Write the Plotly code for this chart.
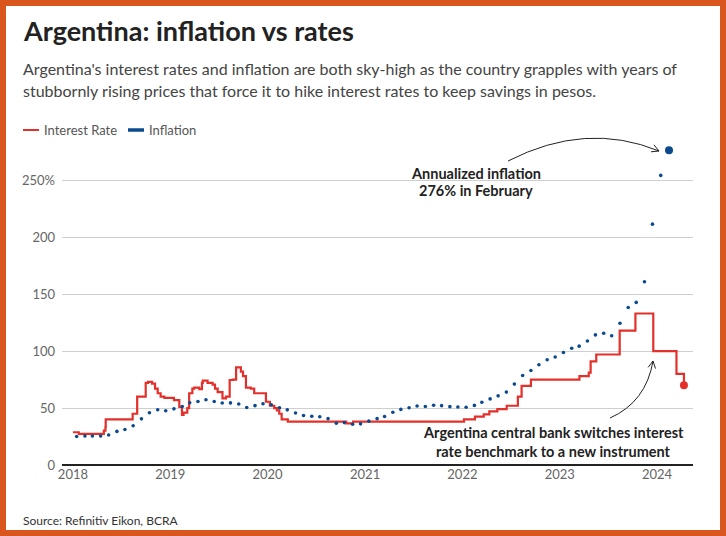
import numpy as np
import plotly.graph_objects as go

# Monthly annual inflation (%), Jan 2018 - Feb 2024
infl_months = [f"{y}-{m:02d}-15" for y in range(2018, 2025) for m in range(1, 13)][:74]
inflation = [
    25.0, 25.4, 25.4, 25.5, 26.3, 29.5, 31.2, 34.4, 40.5, 45.9, 48.5, 47.6,
    49.3, 51.3, 54.7, 55.8, 57.3, 55.8, 54.4, 54.5, 53.5, 50.5, 52.1, 53.8,
    52.9, 50.3, 48.4, 45.6, 43.4, 42.8, 42.4, 40.7, 36.6, 37.2, 35.8, 36.1,
    38.5, 40.7, 42.6, 46.3, 48.8, 50.2, 51.8, 51.4, 52.5, 52.1, 51.2, 50.9,
    50.7, 52.3, 55.1, 58.0, 60.7, 64.0, 71.0, 78.5, 83.0, 88.0, 92.4, 94.8,
    98.8, 102.5, 104.3, 108.8, 114.2, 115.6, 113.4, 124.4, 138.3, 142.7, 160.9, 211.4,
    254.2, 276.2,
]

# Policy interest rate (%), step changes
rate_dates = [
    "2018-01-01", "2018-01-23", "2018-04-27", "2018-05-03", "2018-05-04", "2018-08-13",
    "2018-08-30", "2018-10-01", "2018-10-10", "2018-10-25", "2018-11-05", "2018-11-15",
    "2018-11-26", "2018-12-10", "2019-01-15", "2019-02-04", "2019-02-14", "2019-02-20",
    "2019-03-06", "2019-03-13", "2019-03-25", "2019-04-01", "2019-04-20", "2019-04-30",
    "2019-05-03", "2019-05-21", "2019-06-09", "2019-06-18", "2019-06-28", "2019-07-16",
    "2019-07-29", "2019-08-12", "2019-08-24", "2019-09-05", "2019-09-23", "2019-10-01",
    "2019-10-12", "2019-10-30", "2019-11-12", "2019-12-16", "2019-12-26", "2020-01-10",
    "2020-01-26", "2020-02-05", "2020-02-14", "2020-02-23", "2020-03-17", "2020-10-22",
    "2020-11-17", "2022-01-07", "2022-02-17", "2022-03-22", "2022-04-12", "2022-05-12",
    "2022-06-16", "2022-07-28", "2022-08-11", "2022-09-15", "2023-03-16", "2023-04-20",
    "2023-04-27", "2023-05-18", "2023-08-14", "2023-10-12", "2023-12-18", "2024-03-14",
    "2024-04-11",
]
rate_values = [
    28.75, 27.25, 30.25, 33.25, 40, 45,
    60, 72, 73, 71.5, 67, 63,
    60, 59, 57, 51, 44, 46,
    50, 63, 67, 68, 66.5, 72,
    74, 72, 70.5, 67, 64, 58.5,
    60, 74.6, 75, 85.7, 82, 78,
    68, 67, 63, 63, 55.5, 52,
    50, 48, 45, 40, 38, 36.5,
    38, 40, 42.5, 44.5, 47, 49,
    52, 60, 69.5, 75, 78, 81,
    91, 97, 118, 133, 100, 80,
    70,
]

y_ticks = [0, 50, 100, 150, 200, 250]
y_labels = ["0", "50", "100", "150", "200", "250%"]
x_ticks = [f"{y}-01-01" for y in range(2018, 2025)]
x_labels = [str(y) for y in range(2018, 2025)]

RED = "#E3302B"
BLUE = "#0B4A8F"
ORANGE = "#DA561F"
FONT = "Lato"

W, H = 726, 536
L, R, T, B = 62, 33, 146, 71
PW, PH = W - L - R, H - T - B


def px(x):
    return (x - L) / PW


def py(y):
    return (H - B - y) / PH


fig = go.Figure()

fig.add_trace(go.Scatter(
    x=rate_dates, y=rate_values, mode="lines", line_shape="hv",
    line=dict(color=RED, width=2.2), hoverinfo="skip",
))
fig.add_trace(go.Scatter(
    x=[rate_dates[-1]], y=[rate_values[-1]], mode="markers",
    marker=dict(color=RED, size=8), hoverinfo="skip",
))
fig.add_trace(go.Scatter(
    x=infl_months[:-1], y=inflation[:-1], mode="markers",
    marker=dict(color=BLUE, size=3.6), hoverinfo="skip",
))
fig.add_trace(go.Scatter(
    x=[infl_months[-1]], y=[inflation[-1]], mode="markers",
    marker=dict(color=BLUE, size=8), hoverinfo="skip",
))

annotations = []
shapes = []


def text(s, x, y, size, color="#222", anchor="left"):
    annotations.append(dict(
        text=s, x=px(x), y=py(y), xref="paper", yref="paper",
        xanchor=anchor, yanchor="middle", showarrow=False,
        font=dict(family=FONT, size=size, color=color),
    ))


def curved_arrow(p0, c, p2):
    pts = [p0, c, p2]
    path = "M {} {} Q {} {} {} {}".format(
        px(pts[0][0]), py(pts[0][1]), px(pts[1][0]), py(pts[1][1]),
        px(pts[2][0]), py(pts[2][1]))
    shapes.append(dict(type="path", path=path, xref="paper", yref="paper",
                       line=dict(color="#222", width=1)))
    d = np.array(p2, float) - np.array(c, float)
    d = -d / np.linalg.norm(d)
    head = []
    for a in (np.radians(28), -np.radians(28)):
        rot = np.array([[np.cos(a), -np.sin(a)], [np.sin(a), np.cos(a)]])
        head.append(np.array(p2, float) + 8 * rot @ d)
    hp = "M {} {} L {} {} L {} {}".format(
        px(head[0][0]), py(head[0][1]), px(p2[0]), py(p2[1]),
        px(head[1][0]), py(head[1][1]))
    shapes.append(dict(type="path", path=hp, xref="paper", yref="paper",
                       line=dict(color="#222", width=1)))


# headings
text("<b>Argentina: inflation vs rates</b>", 21, 30, 27)
text("Argentina's interest rates and inflation are both sky-high as the country grapples with years of",
     21, 68, 16, "#444")
text("stubbornly rising prices that force it to hike interest rates to keep savings in pesos.",
     21, 90, 16, "#444")

# legend
shapes.append(dict(type="line", xref="paper", yref="paper", x0=px(23), x1=px(39),
                   y0=py(130), y1=py(130), line=dict(color=RED, width=2)))
text("Interest Rate", 42, 130, 13, "#555")
shapes.append(dict(type="line", xref="paper", yref="paper", x0=px(128), x1=px(144),
                   y0=py(130), y1=py(130), line=dict(color=BLUE, width=3.5)))
text("Inflation", 147, 130, 13, "#555")

# chart notes
text("<b>Annualized inflation</b>", 476, 173, 14.5, anchor="center")
text("<b>276% in February</b>", 476, 190, 14.5, anchor="center")
text("<b>Argentina central bank switches interest</b>", 553, 432, 14.5, anchor="center")
text("<b>rate benchmark to a new instrument</b>", 553, 451, 14.5, anchor="center")
curved_arrow((508, 161), (586, 121), (659, 151))
curved_arrow((610, 418), (646, 402), (653, 361))

text("Source: Refinitiv Eikon, BCRA", 21, 520, 12, "#333")

# orange frame
shapes.append(dict(type="rect", xref="paper", yref="paper", layer="above",
                   x0=px(0), x1=px(W), y0=py(H), y1=py(0),
                   line=dict(color=ORANGE, width=12)))

fig.update_layout(
    width=W, height=H,
    margin=dict(l=L, r=R, t=T, b=B, pad=0),
    paper_bgcolor="white", plot_bgcolor="white",
    showlegend=False,
    font=dict(family=FONT, size=13, color="#666"),
    annotations=annotations, shapes=shapes,
    xaxis=dict(
        type="date", range=["2017-11-21", "2024-05-15"],
        tickvals=x_ticks, ticktext=x_labels, showgrid=False,
        showline=False, zeroline=False, ticks="", fixedrange=True,
        tickfont=dict(size=13, color="#666"),
    ),
    yaxis=dict(
        range=[0, 280], tickvals=y_ticks, ticktext=y_labels,
        showgrid=True, gridcolor="#cfcfcf", gridwidth=1,
        zeroline=True, zerolinecolor="#222", zerolinewidth=1.5,
        showline=False, ticks="", ticklabelstandoff=6, fixedrange=True,
        tickfont=dict(size=13, color="#666"),
    ),
)

fig.write_html("out.html", config={"displayModeBar": False},
               post_script="document.body.style.margin='0';")
